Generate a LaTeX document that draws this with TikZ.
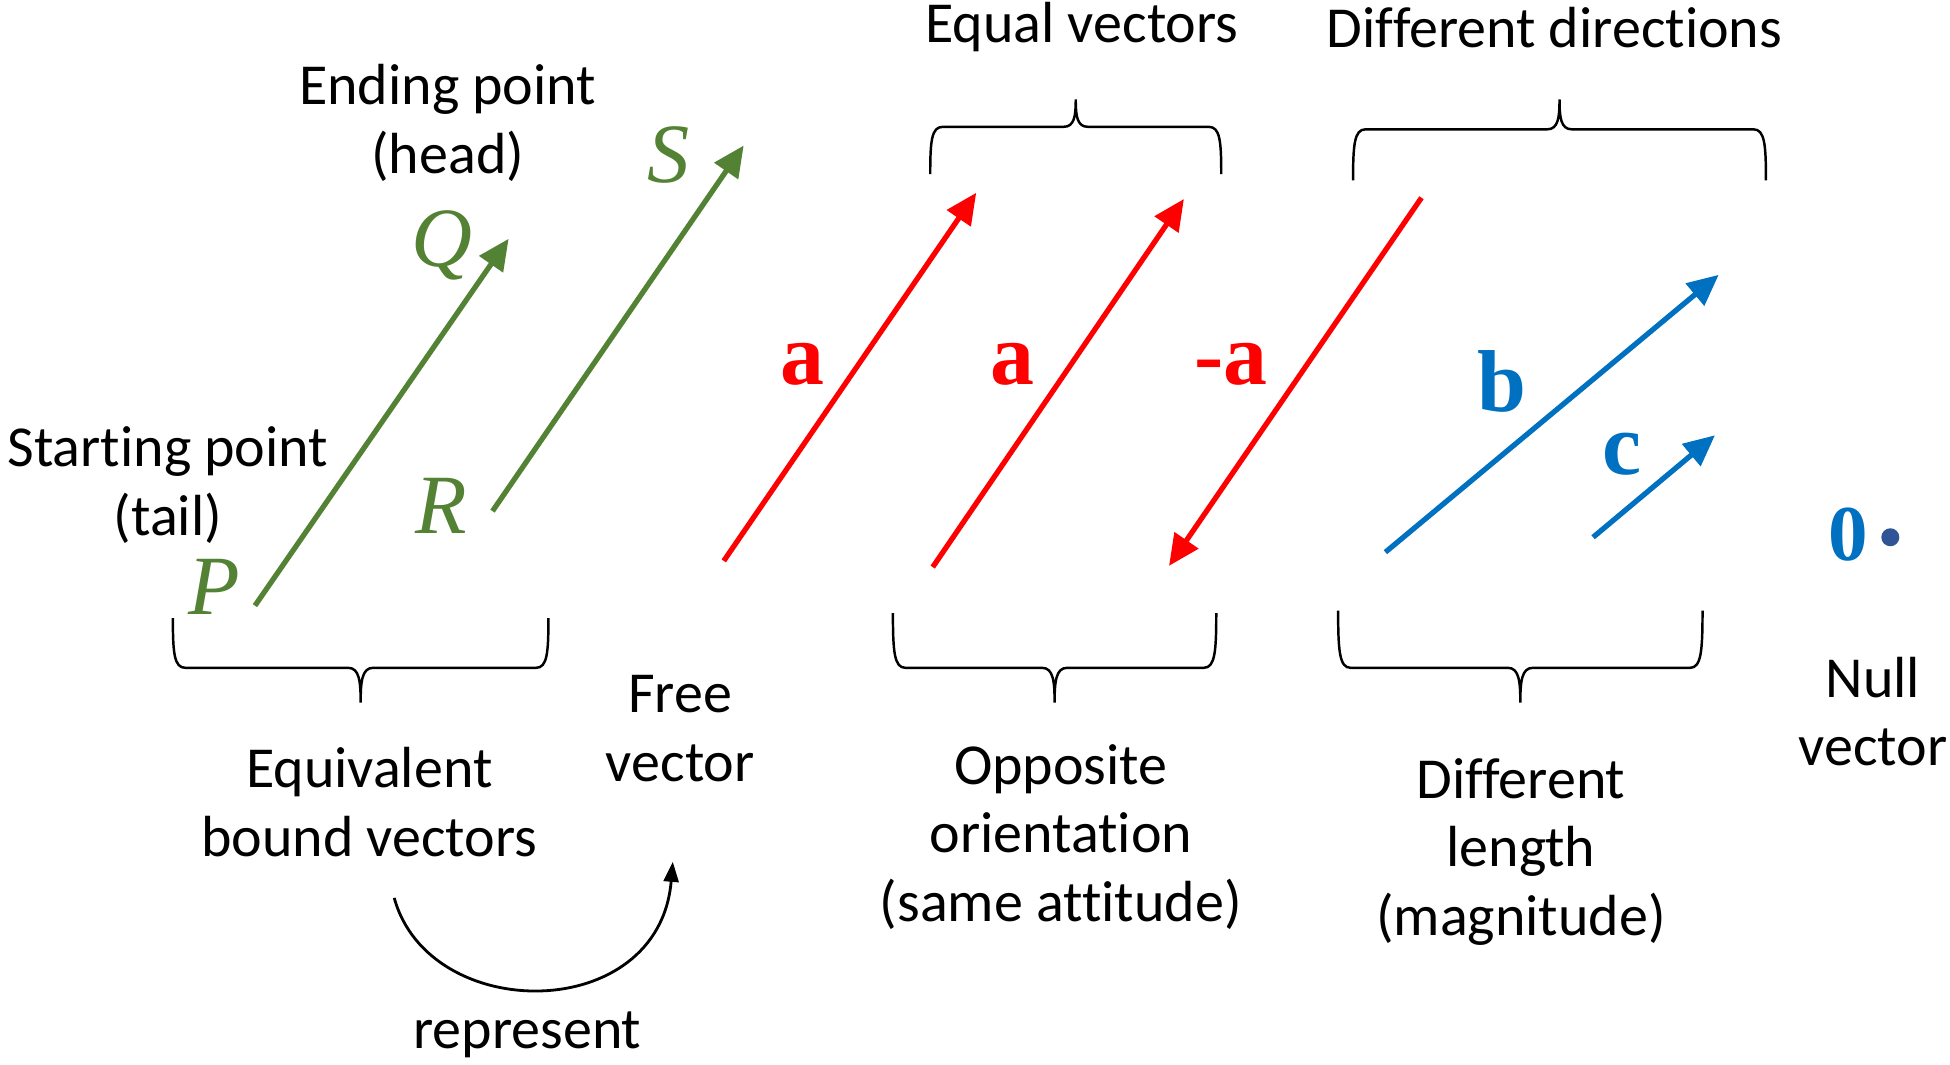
\documentclass[tikz,border=0pt]{standalone}
\usepackage{fontspec}
\setmainfont{Carlito}[Ligatures=NoCommon]
\newfontfamily\serifletters{Liberation Serif}
\usetikzlibrary{arrows.meta}
\definecolor{vecgreen}{HTML}{548235}
\definecolor{vecred}{HTML}{FF0000}
\definecolor{vecblue}{HTML}{0070C0}
\definecolor{dotblue}{HTML}{2F5597}

% curly brace: x1, x2, y of the ends, y of the bar, y of the tip
\newcommand{\curlybrace}[5]{%
  \pgfmathsetmacro\bxm{(#1+#2)/2}%
  \pgfmathsetmacro\bya{#4+0.3*(#3-#4)}%
  \pgfmathsetmacro\byb{#4+0.4*(#5-#4)}%
  \draw[brace] (#1,#3) .. controls (#1,\bya) and (#1+1,#4) .. (#1+10,#4)
    -- (\bxm-10,#4) .. controls (\bxm-1,#4) and (\bxm,\byb) .. (\bxm,#5)
    .. controls (\bxm,\byb) and (\bxm+1,#4) .. (\bxm+10,#4)
    -- (#2-10,#4) .. controls (#2-1,#4) and (#2,\bya) .. (#2,#3);
}

\begin{document}
\begin{tikzpicture}[
  x=0.012436cm, y=-0.012436cm,
  lbl/.style={align=center, font=\fontsize{16.5}{19.5}\selectfont, inner sep=0pt},
  pointlbl/.style={font=\serifletters\itshape\fontsize{24}{26}\selectfont, text=vecgreen, inner sep=0pt},
  veclbl/.style={font=\serifletters\bfseries\fontsize{25}{27}\selectfont, inner sep=0pt},
  vec/.style={line width=1.5pt, -{Triangle[length=0.31cm, width=0.28cm]}},
  brace/.style={line width=0.7pt},
  bendarrow/.style={line width=0.8pt, -{Triangle[length=0.2cm, width=0.15cm]}}
]
\useasboundingbox (0,0) rectangle (1568,856);

% bound vectors
\coordinate (P) at (205,487);
\coordinate (Q) at (409,192);
\coordinate (R) at (396,411);
\coordinate (S) at (598,117);
\node[pointlbl] (labP) at (172,472) {P};
\node[pointlbl] (labQ) at (355,197) {Q};
\node[pointlbl] (labR) at (355,407) {R};
\node[pointlbl] (labS) at (538,125) {S};
\draw[vec, vecgreen] (P) -- (Q);
\draw[vec, vecgreen] (R) -- (S);

\node[lbl] (ending) at (360,99) {Ending point\\(head)};
\node[lbl] (starting) at (135,390) {Starting point\\(tail)};

% free vectors a, a, -a
\coordinate (a1tail) at (582,451);
\coordinate (a1head) at (785,155);
\coordinate (a2tail) at (750,456);
\coordinate (a2head) at (952,160);
\coordinate (natail) at (1143,159);
\coordinate (nahead) at (940,455);
\draw[vec, vecred] (a1tail) -- (a1head);
\draw[vec, vecred] (a2tail) -- (a2head);
\draw[vec, vecred] (natail) -- (nahead);
\node[veclbl, text=vecred] (laba1) at (645,293) {a};
\node[veclbl, text=vecred] (laba2) at (814,293) {a};
\node[veclbl, text=vecred] (labna) at (990,293) {-a};

% b, c and the null vector
\coordinate (btail) at (1114,444);
\coordinate (bhead) at (1382,221);
\coordinate (ctail) at (1281,432);
\coordinate (chead) at (1379,350);
\draw[vec, vecblue] (btail) -- (bhead);
\draw[vec, vecblue] (ctail) -- (chead);
\node[veclbl, text=vecblue] (labb) at (1208,307) {b};
\node[veclbl, text=vecblue] (labc) at (1304,365) {c};
\node[veclbl, text=vecblue, font=\serifletters\bfseries\fontsize{22.5}{24}\selectfont] (lab0) at (1486,430) {0};
\fill[dotblue] (1520,432) circle (0.09cm);

% braces
\curlybrace{748}{982}{140}{102}{80}
\curlybrace{1088}{1420}{145}{104}{80}
\curlybrace{139}{441}{497}{537}{565}
\curlybrace{718}{978}{493}{537}{565}
\curlybrace{1076}{1369}{491}{537}{565}

\node[lbl] (equal) at (870,22) {Equal vectors};
\node[lbl] (directions) at (1250,22) {Different directions};
\node[lbl] (bound) at (297,645) {Equivalent\\bound vectors};
\node[lbl] (free) at (547,586) {Free\\vector};
\node[lbl] (opposite) at (853,673) {Opposite\\orientation\\(same attitude)};
\node[lbl] (length) at (1223,685) {Different\\length\\(magnitude)};
\node[lbl] (null) at (1506,572) {Null\\vector};

% represent
\coordinate (repstart) at (317,722);
\coordinate (repend) at (541,693);
\draw[bendarrow] (repstart) .. controls (345,824) and (530,824) .. (repend);
\node[lbl] (represent) at (424,832) {represent};
\end{tikzpicture}
\end{document}
